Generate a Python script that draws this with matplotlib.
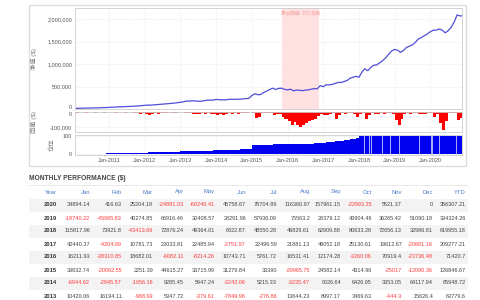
import matplotlib
matplotlib.use("Agg")
import matplotlib.dates as mdates
import matplotlib.pyplot as plt
import numpy as np
from matplotlib.patches import Rectangle
from matplotlib.ticker import FuncFormatter
from matplotlib.transforms import ScaledTranslation

plt.rcParams["font.family"] = ["Liberation Sans", "Noto Sans CJK SC", "DejaVu Sans"]

# ---- data ----
month_names = ["Jan", "Feb", "Mar", "Apr", "May", "Jun",
               "Jul", "Aug", "Sep", "Oct", "Nov", "Dec"]
table_years = [2020, 2019, 2018, 2017, 2016, 2015, 2014, 2013]

pnl_2020 = [34894.14, 416.63, 25204.18, -24881.03, -60240.41, 45758.67,
            78704.89, 116360.97, 157961.15, -22993.35, 5521.37, 0]
pnl_2019 = [-18740.22, -45965.83, 40274.85, 66916.46, 30408.57, 28291.96,
            57936.09, 75563.2, 28379.12, 43904.46, 36265.42, 51090.18]
pnl_2018 = [115817.96, 73921.8, -43413.69, 72876.24, 49364.01, 6822.87,
            48550.28, 46829.61, 62909.88, 80633.28, 72656.13, 32986.81]
pnl_2017 = [42440.37, -4204.69, 10781.73, 23033.81, 22485.94, -2751.97,
            22496.59, 21881.13, 49052.18, 25130.61, 19612.67, -20681.16]
pnl_2016 = [16211.93, -38310.85, 18682.01, -6082.11, -8214.26, 10743.71,
            5761.72, 16531.41, 12174.28, -3260.06, 70919.4, -23736.48]
pnl_2015 = [39632.74, -20062.55, 2251.39, 44615.27, 33715.99, 31279.84,
            33390, -29965.75, 24582.14, 4314.96, -25017, -12090.36]
pnl_2014 = [-6944.62, -2945.57, -1656.16, 9285.45, 5947.24, -3242.06,
            5215.33, -3235.47, 9626.64, 6426.95, 3353.05, 64117.94]
pnl_2013 = [10420.06, 16194.11, -968.99, 5347.72, -379.61, -7849.96,
            -276.86, 13644.23, 8997.17, 3469.63, -444.3, 15626.4]
ytd = [356307.21, 394324.26, 619955.18, 209277.21, 71420.7, 126846.67,
       85948.72, 63779.6]

# equity before the table starts (thousands, month ends 2010-2012)
equity_pre_2013_k = [15, 16, 17, 18, 19, 21, 23, 25, 27, 30, 33, 36,
                     38, 41, 44, 47, 50, 53, 57, 61, 65, 70, 75, 82,
                     88, 86, 92, 97, 103, 108, 114, 119, 125, 132, 140, 150]

# monthly worst drawdown (thousands), Jan 2010 .. Dec 2020
drawdown_k = [0, -2, -1, 0, -3, -1, 0, -2, -1, 0, -2, 0,
              -1, 0, -2, -1, 0, -3, -1, 0, -2, -6, -10, -8,
              -12, -18, -9, -5, -11, -6, -2, -3, -1, -4, -2, 0,
              -1, -3, -8, -4, -12, -14, -10, -6, -11, -7, -12, -9,
              -20, -15, -17, -9, -6, -13, -8, -11, -4, -2, -6, 0,
              -8, -38, -30, -5, -2, -3, -4, -22, -12, -9, -30, -45,
              -62, -84, -70, -88, -102, -90, -73, -60, -51, -45, -25, -10,
              -16, -22, -14, -6, -49, -20, -8, -10, -4, -3, -9, -30,
              -12, -8, -49, -20, -6, -15, -10, -5, -12, -8, -4, -10,
              -55, -87, -45, -15, -8, -10, -4, -6, -12, -9, -10, -6,
              -5, -30, -12, -75, -120, -60, -8, -4, -6, -53, -40, -30]

# position (%), Jan 2010 .. Dec 2020
position_pct = [1, 1, 2, 2, 2, 3, 3, 3, 4, 4, 4, 5,
                5, 5, 6, 6, 6, 7, 7, 7, 8, 8, 8, 9,
                9, 10, 10, 10, 11, 11, 12, 12, 12, 13, 13, 14,
                15, 17, 17, 17, 18, 18, 18, 19, 19, 20, 20, 21,
                21, 22, 22, 23, 24, 24, 25, 25, 26, 27, 27, 28,
                48, 49, 50, 51, 51, 52, 52, 53, 53, 54, 54, 55,
                55, 55, 56, 56, 57, 57, 57, 58, 58, 59, 60, 62,
                63, 64, 66, 68, 70, 72, 74, 76, 78, 80, 83, 86,
                100, 100, 100, 100, 100, 100, 100, 100, 100, 100, 100, 100,
                100, 100, 100, 100, 100, 100, 100, 100, 100, 100, 100, 100,
                100, 100, 100, 100, 100, 100, 100, 100, 100, 100, 100, 100]

flat_days = ["2018-02-20", "2018-04-10", "2018-05-08", "2018-08-20",
             "2018-11-15", "2019-02-12", "2019-09-05", "2020-01-10",
             "2020-01-17", "2020-04-02", "2020-09-15"]

longest_dd = ("2015-11-10", "2016-11-16")
longest_dd_label = "最长回撤: 372 天数"

# ---- layout helpers (pixel coords, origin top-left) ----
W, H = 480, 300


def box(x0, y0, x1, y1):
    return [x0 / W, 1 - y1 / H, (x1 - x0) / W, (y1 - y0) / H]


def put(x, y, s, **kw):
    fig.text(x / W, 1 - y / H, s, va="center", **kw)


def fmt(v):
    return f"{v:.2f}".rstrip("0").rstrip(".")


def style(ax):
    for sp in ax.spines.values():
        sp.set_color("#cccccc")
        sp.set_linewidth(0.6)
    ax.grid(True, color="#dddddd", linestyle=":", linewidth=0.5)
    ax.set_axisbelow(True)
    ax.tick_params(length=0, labelsize=4, colors="#555555", pad=2)
    ax.xaxis.set_major_locator(mdates.YearLocator(month=1, day=1))
    ax.set_xlim(np.datetime64("2010-01-18"), np.datetime64("2020-11-20"))


def nudge_zero(ax, dy_pt):
    # keep the two stacked "0" labels from running into each other
    for t in ax.yaxis.get_major_ticks():
        if t.get_loc() == 0:
            lab = t.label1
            lab.set_transform(lab.get_transform()
                              + ScaledTranslation(0, dy_pt / 72, fig.dpi_scale_trans))


months = np.arange("2010-01", "2021-01", dtype="datetime64[M]")
starts = months.astype("datetime64[D]")
month_ends = (months + 1).astype("datetime64[D]")

pnl_rows = [pnl_2020, pnl_2019, pnl_2018, pnl_2017,
            pnl_2016, pnl_2015, pnl_2014, pnl_2013]
chrono = np.concatenate([np.array(r) for r in pnl_rows[::-1]])
equity = np.concatenate([np.array(equity_pre_2013_k) * 1000.0,
                         equity_pre_2013_k[-1] * 1000.0 + np.cumsum(chrono)])

fig = plt.figure(figsize=(4.8, 3), dpi=100)
fig.patches.append(Rectangle((29 / W, 1 - 166 / H), 437 / W, 161 / H,
                             transform=fig.transFigure, fill=False,
                             ec="#dddddd", lw=1))

ax_eq = fig.add_axes(box(75, 8, 462, 109))
ax_dd = fig.add_axes(box(75, 112, 462, 132))
ax_pos = fig.add_axes(box(75, 135, 462, 155))

# equity
style(ax_eq)
ax_eq.axvspan(np.datetime64(longest_dd[0]), np.datetime64(longest_dd[1]),
              color="#ffe1e1", lw=0)
mid = np.datetime64(longest_dd[0]) + (np.datetime64(longest_dd[1]) - np.datetime64(longest_dd[0])) // 2
ax_eq.text(mid, 0.955, longest_dd_label, transform=ax_eq.get_xaxis_transform(),
           ha="center", va="center", fontsize=3.3, color="#f2a0a0")
ax_eq.plot(month_ends, equity, color="#4e4ed8", lw=0.9)
ax_eq.set_ylim(0, 2.25e6)
ax_eq.set_yticks([0, 5e5, 1e6, 1.5e6, 2e6])
ax_eq.yaxis.set_major_formatter(FuncFormatter(lambda v, p: f"{v:,.0f}"))
ax_eq.set_xticklabels([])
ax_eq.set_ylabel("净值 ($)", fontsize=4.5, color="#777777")
ax_eq.yaxis.set_label_coords(-0.098, 0.5)

# drawdown
style(ax_dd)
ax_dd.bar(starts, np.array(drawdown_k) * 1000.0, width=31, align="edge",
          color="#ff0000", lw=0)
ax_dd.set_ylim(-135000, 1500)
ax_dd.set_yticks([-100000, 0])
ax_dd.yaxis.set_major_formatter(FuncFormatter(lambda v, p: f"{v:,.0f}"))
ax_dd.set_xticklabels([])
ax_dd.set_ylabel("回撤 ($)", fontsize=4.5, color="#777777")
ax_dd.yaxis.set_label_coords(-0.098, 0.5)

# position
style(ax_pos)
ax_pos.bar(starts, position_pct, width=31, align="edge", color="#0000f0", lw=0)
for d in flat_days:
    ax_pos.axvline(np.datetime64(d), color="#c8c8f4", lw=0.6)
ax_pos.set_ylim(-4, 104)
ax_pos.set_yticks([0, 100])
ax_pos.xaxis.set_major_formatter(mdates.DateFormatter("%b-%Y"))
ax_pos.set_ylabel("仓位", fontsize=4.5, color="#777777")
ax_pos.yaxis.set_label_coords(-0.052, 0.5)

fig.canvas.draw()
nudge_zero(ax_eq, 1.2)
nudge_zero(ax_dd, -1.2)

# ---- monthly performance table ----
put(29, 178, "MONTHLY PERFORMANCE ($)", fontsize=4.8, fontweight="bold",
    color="#444444", ha="left")
fig.add_artist(plt.Line2D([29 / W, 468 / W], [1 - 185 / H] * 2,
                          color="#e4e4e4", lw=0.6))

col_right = [57, 90, 122, 153, 184, 215, 246, 277, 310, 341, 372, 402, 433, 466]
headers = ["Year"] + month_names + ["YTD"]
for x, h in zip(col_right, headers):
    put(x, 192, h, fontsize=4.2, color="#4a7bc8", ha="right")

for i, (yr, row, tot) in enumerate(zip(table_years, pnl_rows, ytd)):
    yc = 205 + 13 * i
    if i % 2 == 0:
        fig.patches.append(Rectangle((29 / W, 1 - (yc + 6.5) / H), 439 / W, 13 / H,
                                     transform=fig.transFigure, fc="#f3f3f3",
                                     ec="none", zorder=0))
    put(col_right[0], yc, str(yr), fontsize=4.2, fontweight="bold",
        color="#333333", ha="right")
    for x, v in zip(col_right[1:], row + [tot]):
        put(x, yc, fmt(v), fontsize=4.0,
            color="#ff3b3b" if v < 0 else "#444444", ha="right")

fig.savefig("out.png", dpi=100)
